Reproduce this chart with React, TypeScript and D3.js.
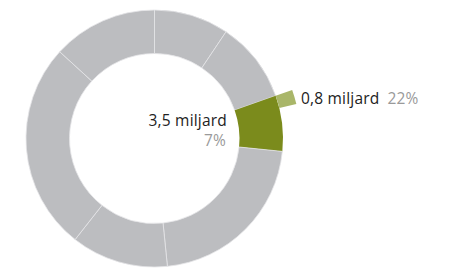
import React, { useEffect, useRef } from 'react';
import * as d3 from 'd3';

// Segment values in miljard, clockwise from 12 o'clock
const segmentNames = ['a', 'b', 'c', 'd', 'e', 'f', 'g'];
const segmentValues = [4.7, 5.1, 3.5, 10.9, 6.1, 13.1, 6.6];
const highlightIndex = 2;
const subValue = 0.8;
const mainLabel = '3,5 miljard';
const mainPct = '7%';
const subLabel = '0,8 miljard';
const subPct = '22%';

const width = 451;
const height = 268;

const App = () => {
  const ref = useRef<SVGSVGElement>(null);

  useEffect(() => {
    const svg = d3.select(ref.current);
    svg.selectAll('*').remove();

    const cx = 154.5;
    const cy = 138.5;
    const outerR = 128.5;
    const innerR = 85;

    const data = segmentValues.map((v, i) => ({ name: segmentNames[i], value: v, i }));
    const pie = d3.pie<any>().sort(null).value((d) => d.value).startAngle(0).endAngle(2 * Math.PI);
    const arcs = pie(data);
    const arc = d3.arc<any>().innerRadius(innerR).outerRadius(outerR);

    const g = svg.append('g').attr('transform', `translate(${cx},${cy})`);

    g.selectAll('path.seg')
      .data(arcs)
      .join('path')
      .attr('class', 'seg')
      .attr('d', arc)
      .attr('fill', (d) => (d.data.i === highlightIndex ? '#7b8b1c' : '#bcbdc0'))
      .attr('stroke', (d) => (d.data.i === highlightIndex ? 'none' : '#e4e5e7'))
      .attr('stroke-width', 0.8);

    // small outer slice for the sub-part of the highlighted segment
    const hl = arcs[highlightIndex];
    const subEnd = hl.startAngle + (hl.endAngle - hl.startAngle) * (subValue / segmentValues[highlightIndex]);
    const subArc = d3.arc<any>().innerRadius(outerR).outerRadius(146);
    g.append('path')
      .attr('d', subArc({ startAngle: hl.startAngle, endAngle: subEnd }))
      .attr('fill', '#a9b669');

    const font = "'Open Sans', sans-serif";
    const fs = 15.5;
    svg.append('text')
      .attr('x', 227)
      .attr('y', 125.5)
      .attr('text-anchor', 'end')
      .attr('font-family', font)
      .attr('font-size', fs)
      .attr('letter-spacing', 0.2)
      .attr('fill', '#222')
      .text(mainLabel);
    svg.append('text')
      .attr('x', 226)
      .attr('y', 146)
      .attr('text-anchor', 'end')
      .attr('font-family', font)
      .attr('font-size', fs)
      .attr('letter-spacing', 0.2)
      .attr('fill', '#9a9a9a')
      .text(mainPct);

    const t = svg.append('text')
      .attr('x', 301)
      .attr('y', 104)
      .attr('font-family', font)
      .attr('font-size', fs)
      .attr('letter-spacing', 0.2);
    t.append('tspan').attr('fill', '#222').text(subLabel);
    t.append('tspan').attr('fill', '#9a9a9a').attr('dx', 8).text(subPct);
  }, []);

  return (
    <svg
      ref={ref}
      width={width}
      height={height}
      style={{ position: 'fixed', left: 0, top: 0, background: '#fff' }}
    />
  );
};

export default App;
